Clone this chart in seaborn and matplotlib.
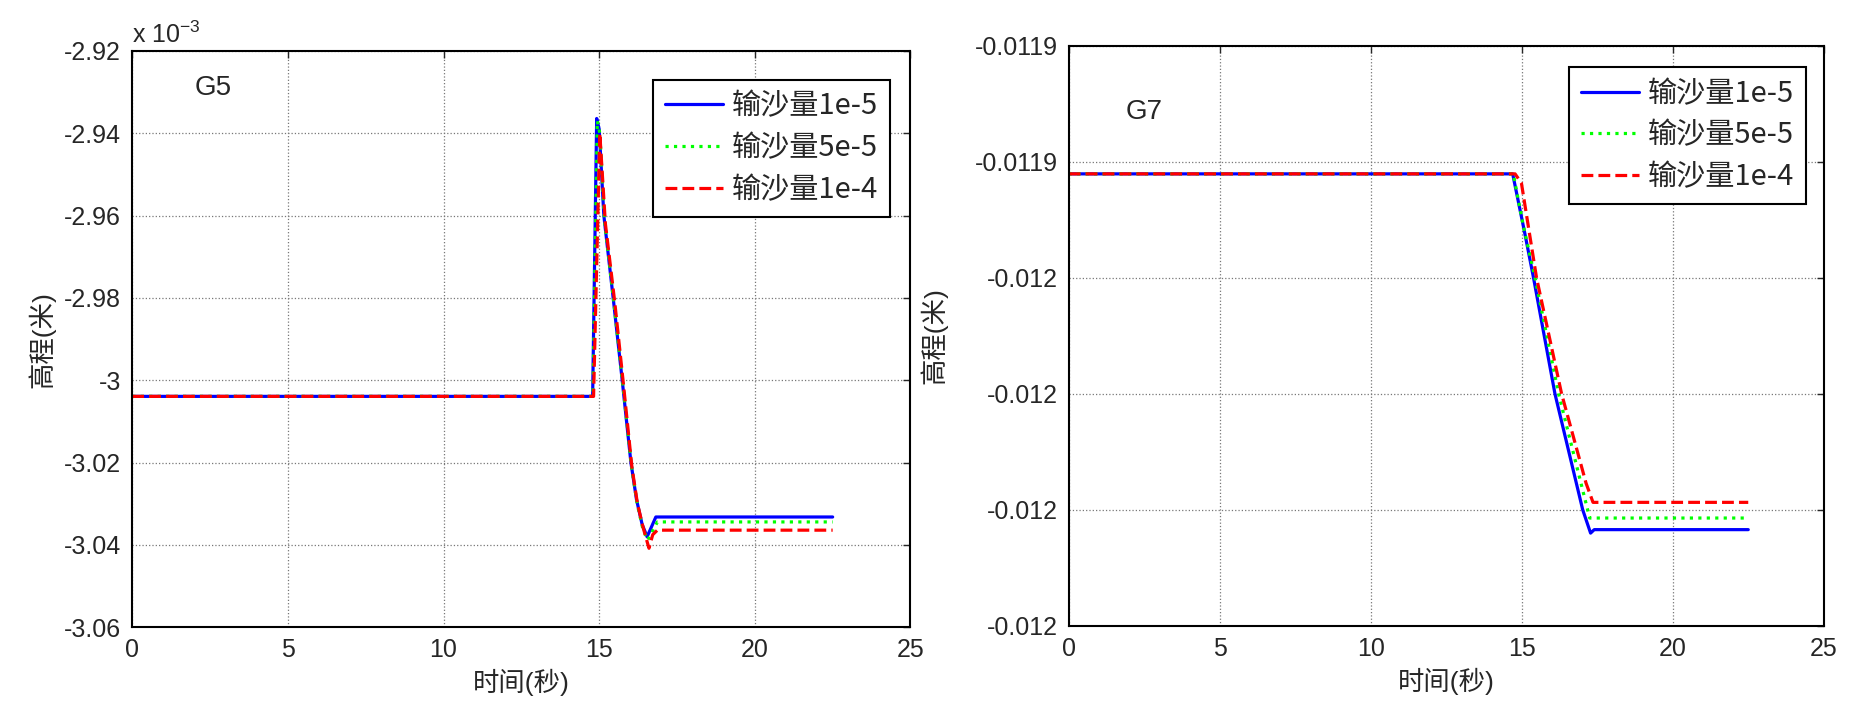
import numpy as np
import matplotlib
matplotlib.use("Agg")
import matplotlib.pyplot as plt
import seaborn as sns
from matplotlib.ticker import FuncFormatter

# G5 series (elevation in metres)
g5_x_1e5 = [0, 14.79, 14.92, 15.0, 15.15, 15.45, 15.74, 16.02, 16.2, 16.38, 16.54, 16.82, 22.5]
g5_y_1e5 = [-3.0039e-3, -3.0039e-3, -2.9364e-3, -2.939e-3, -2.96e-3, -2.98e-3, -3.00e-3,
            -3.02e-3, -3.029e-3, -3.035e-3, -3.038e-3, -3.0332e-3, -3.0332e-3]
g5_x_5e5 = [0, 14.8, 14.94, 15.02, 15.17, 15.47, 15.76, 16.04, 16.22, 16.4, 16.56, 16.87, 22.5]
g5_y_5e5 = [-3.0039e-3, -3.0039e-3, -2.937e-3, -2.940e-3, -2.961e-3, -2.981e-3, -3.001e-3,
            -3.021e-3, -3.030e-3, -3.036e-3, -3.0388e-3, -3.0344e-3, -3.0344e-3]
g5_x_1e4 = [0, 14.82, 15.02, 15.2, 15.5, 15.78, 16.05, 16.23, 16.42, 16.6, 16.72, 16.87, 22.5]
g5_y_1e4 = [-3.0039e-3, -3.0039e-3, -2.940e-3, -2.962e-3, -2.981e-3, -3.001e-3, -3.021e-3,
            -3.030e-3, -3.036e-3, -3.0408e-3, -3.0375e-3, -3.0364e-3, -3.0364e-3]

# G7 series
g7_x_1e5 = [0, 14.7, 15.1, 15.39, 16.1, 17.02, 17.28, 17.4, 22.5]
g7_y_1e5 = [-0.0119421, -0.0119421, -0.0119523, -0.01196, -0.01198, -0.01200,
            -0.0120040, -0.0120034, -0.0120034]
g7_x_5e5 = [0, 14.72, 15.05, 15.44, 16.22, 17.25, 22.5]
g7_y_5e5 = [-0.0119421, -0.0119421, -0.0119510, -0.01196, -0.01198, -0.0120014, -0.0120014]
g7_x_1e4 = [0, 14.78, 14.99, 15.49, 16.32, 17.13, 17.36, 22.5]
g7_y_1e4 = [-0.0119421, -0.0119421, -0.0119437, -0.01196, -0.01198, -0.0119954,
            -0.0119987, -0.0119987]

labels = ["输沙量1e-5", "输沙量5e-5", "输沙量1e-4"]
colors = ["#0000ff", "#00ff00", "#ff0000"]
styles = ["-", ":", "--"]

sns.set_style("white")
plt.rcParams["font.family"] = ["Liberation Sans", "Noto Sans CJK SC"]
plt.rcParams["mathtext.default"] = "regular"
plt.rcParams["axes.unicode_minus"] = False

fig = plt.figure(figsize=(18.57, 7.07), dpi=100)
ax1 = fig.add_axes([0.0712, 0.1127, 0.4191, 0.8152])
ax2 = fig.add_axes([0.5755, 0.1146, 0.4066, 0.8209])


def draw(ax, xs, ys):
    for x, y, lab, c, ls in zip(xs, ys, labels, colors, styles):
        sns.lineplot(x=x, y=y, ax=ax, color=c, linestyle=ls, linewidth=2.3, label=lab)


draw(ax1, [g5_x_1e5, g5_x_5e5, g5_x_1e4], [g5_y_1e5, g5_y_5e5, g5_y_1e4])
draw(ax2, [g7_x_1e5, g7_x_5e5, g7_x_1e4], [g7_y_1e5, g7_y_5e5, g7_y_1e4])

ax1.set_ylim(-3.06e-3, -2.92e-3)
ax1.set_yticks(np.arange(-3.06e-3, -2.919e-3, 0.02e-3))
ax1.yaxis.set_major_formatter(FuncFormatter(lambda v, p: f"{round(v * 1e3, 4):g}"))
ax1.text(0.0, 1.005, "x 10$^{-3}$", transform=ax1.transAxes, fontsize=18,
         ha="left", va="bottom")
ax1.text(0.08, 0.935, "G5", transform=ax1.transAxes, fontsize=20, ha="left", va="center")

ax2.set_ylim(-0.01202, -0.01192)
ax2.set_yticks(np.linspace(-0.01202, -0.01192, 6))
ax2.yaxis.set_major_formatter(FuncFormatter(lambda v, p: f"{round(v, 4):g}"))
ax2.text(0.075, 0.885, "G7", transform=ax2.transAxes, fontsize=20, ha="left", va="center")

legend_pos = {ax1: (0.9735, 0.9497), ax2: (0.9766, 0.9626)}
ylabel_x = {ax1: -0.099, ax2: -0.160}
for ax in (ax1, ax2):
    ax.set_xlim(0, 25)
    ax.set_xticks([0, 5, 10, 15, 20, 25])
    ax.grid(True, linestyle=":", color="#777777", linewidth=0.9)
    ax.tick_params(direction="in", top=True, right=True, length=5, width=1, labelsize=18)
    ax.tick_params(axis="y", pad=8)
    ax.tick_params(axis="x", pad=8)
    for s in ax.spines.values():
        s.set_color("black")
        s.set_linewidth(1.5)
    ax.set_xlabel("时间(秒)", fontsize=19)
    ax.set_ylabel("高程(米)", fontsize=19)
    ax.xaxis.set_label_coords(0.5, -0.072)
    ax.yaxis.set_label_coords(ylabel_x[ax], 0.5)
    leg = ax.legend(loc="upper right", bbox_to_anchor=legend_pos[ax],
                    prop={"family": ["Noto Sans CJK SC"], "size": 21},
                    frameon=True, fancybox=False, handlelength=2.0, handletextpad=0.3,
                    labelspacing=0.4, borderpad=0.4, borderaxespad=0)
    leg.get_frame().set_edgecolor("black")
    leg.get_frame().set_linewidth(1.5)
    leg.get_frame().set_alpha(1)

fig.savefig("out.png", dpi=100)
